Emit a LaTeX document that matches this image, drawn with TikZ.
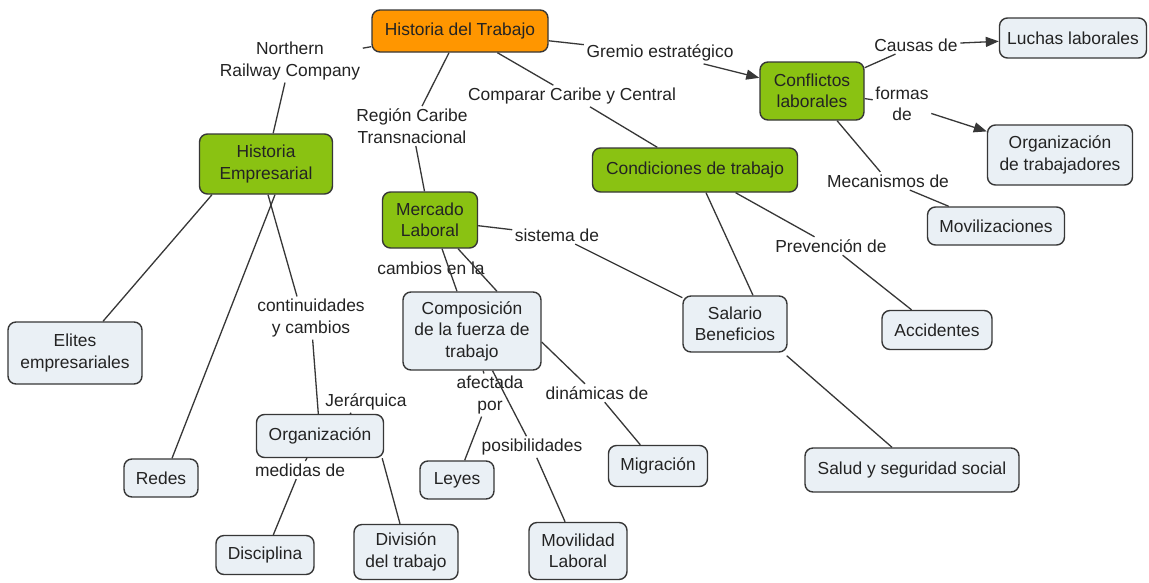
\documentclass[tikz,border=0pt]{standalone}
\usepackage{fontspec}
\setmainfont{Liberation Sans}
\usetikzlibrary{arrows.meta}
\definecolor{orangefill}{RGB}{255,150,0}
\definecolor{greenfill}{RGB}{138,194,18}
\definecolor{palefill}{RGB}{234,240,245}
\definecolor{edgegray}{RGB}{55,55,55}
\definecolor{inkgray}{RGB}{35,35,35}
\begin{document}
\begin{tikzpicture}[x=1pt,y=-1pt,
  every node/.style={font=\fontsize{17.4}{21.5}\selectfont, text=inkgray, align=center},
  box/.style={draw=edgegray, line width=1.4pt, rounded corners=8pt, inner sep=0pt},
  topic/.style={box, fill=orangefill},
  theme/.style={box, fill=greenfill},
  leaf/.style={box, fill=palefill},
  lbl/.style={inner sep=2.5pt},
  link/.style={draw=edgegray, line width=1.3pt},
  arrowlink/.style={link, -{Triangle[length=13pt,width=10pt]}}]
\useasboundingbox (0,0) rectangle (1149,582);
\fill[white] (0,0) rectangle (1149,582);

% concepts
\node[topic, minimum width=176pt, minimum height=42pt] (HdT) at (460,31) {Historia del Trabajo};
\node[leaf, minimum width=147pt, minimum height=40pt] (Luchas) at (1073,38) {Luchas laborales};
\node[theme, minimum width=104pt, minimum height=58pt] (Conf) at (812,91) {Conflictos\\laborales};
\node[leaf, minimum width=145pt, minimum height=60pt] (OrgT) at (1060,155) {Organización\\de trabajadores};
\node[leaf, minimum width=137pt, minimum height=38pt] (Movil) at (996,226) {Movilizaciones};
\node[theme, minimum width=205pt, minimum height=44pt] (Cond) at (695,170) {Condiciones de trabajo};
\node[theme, minimum width=133pt, minimum height=60pt] (HE) at (266,164) {Historia\\Empresarial};
\node[theme, minimum width=95pt, minimum height=56pt] (ML) at (430,220) {Mercado\\Laboral};
\node[leaf, minimum width=138pt, minimum height=78pt] (Comp) at (472,331) {Composición\\de la fuerza de\\trabajo};
\node[leaf, minimum width=104pt, minimum height=56pt] (Sal) at (735,324) {Salario\\Beneficios};
\node[leaf, minimum width=110pt, minimum height=39pt] (Acc) at (937,330) {Accidentes};
\node[leaf, minimum width=134pt, minimum height=62pt] (Elites) at (75,353) {Elites\\empresariales};
\node[leaf, minimum width=127pt, minimum height=43pt] (Org) at (320,436) {Organización};
\node[leaf, minimum width=74pt, minimum height=38pt] (Redes) at (161,478) {Redes};
\node[leaf, minimum width=74pt, minimum height=38pt] (Leyes) at (457,480) {Leyes};
\node[leaf, minimum width=99pt, minimum height=41pt] (Mig) at (658,466) {Migración};
\node[leaf, minimum width=214pt, minimum height=44pt] (Salud) at (912,470) {Salud y seguridad social};
\node[leaf, minimum width=98pt, minimum height=39pt] (Disc) at (265,555) {Disciplina};
\node[leaf, minimum width=104pt, minimum height=55pt] (Div) at (406,552) {División\\del trabajo};
\node[leaf, minimum width=98pt, minimum height=57pt] (Mov) at (578,551) {Movilidad\\Laboral};

% linking phrases
\node[lbl] (lNorth) at (290,61) {Northern\\Railway Company};
\node[lbl] (lGremio) at (660,53) {Gremio estratégico};
\node[lbl] (lCausas) at (916,45) {Causas de};
\node[lbl] (lFormas) at (902,104) {formas\\de};
\node[lbl] (lComparar) at (572,96) {Comparar Caribe y Central};
\node[lbl] (lRegion) at (412,126) {Región Caribe\\Transnacional};
\node[lbl] (lMec) at (888,181) {Mecanismos de};
\node[lbl] (lSistema) at (557,235) {sistema de};
\node[lbl] (lPrev) at (831,246) {Prevención de};
\node[lbl] (lCambios) at (431,268) {cambios en la};
\node[lbl] (lCont) at (311,318) {continuidades\\y cambios};
\node[lbl] (lJer) at (366,402) {Jerárquica};
\node[lbl] (lAfect) at (490,395) {afectada\\por};
\node[lbl] (lDinam) at (597,393) {dinámicas de};
\node[lbl] (lPosib) at (532,447) {posibilidades};
\node[lbl] (lMedidas) at (300,470) {medidas de};

% links
\draw[link] (HdT) -- (lNorth);
\draw[link] (lNorth) -- (HE);
\draw[link] (HdT) -- (lRegion);
\draw[link] (lRegion) -- (ML);
\draw[link] (HdT) -- (lComparar);
\draw[link] (lComparar) -- (Cond);
\draw[link] (HdT) -- (lGremio);
\draw[arrowlink] (lGremio) -- (Conf);
\draw[link] (Conf) -- (lCausas);
\draw[arrowlink] (lCausas) -- (Luchas);
\draw[link] (Conf) -- (lFormas);
\draw[arrowlink] (lFormas) -- (OrgT);
\draw[link] (Conf) -- (lMec);
\draw[link] (lMec) -- (Movil);
\draw[link] (Cond) -- (lPrev);
\draw[link] (lPrev) -- (Acc);
\draw[link] ([xshift=11pt]Cond.south) -- ([xshift=18pt]Sal.north);
\draw[link] (ML) -- (lSistema);
\draw[link] (lSistema) -- (Sal);
\draw[link] ([xshift=12pt]ML.south) -- ([xshift=-15pt]Comp.north);
\draw[link] ([xshift=28pt]ML.south) -- ([xshift=25pt]Comp.north);
\draw[link] ([xshift=-54pt]HE.south) -- ([xshift=28pt]Elites.north);
\draw[link] ([xshift=9pt]HE.south) -- ([xshift=11pt]Redes.north);
\draw[link] ([xshift=2pt]HE.south) -- ([xshift=-14pt]lCont.north);
\draw[link] (lCont) -- (Org);
\draw[link] (lJer) -- (Org);
\draw[link] (Org) -- (lMedidas);
\draw[link] (lMedidas) -- (Disc);
\draw[link] ([xshift=-2pt]Org.south east) -- ([xshift=-6pt]Div.north);
\draw[link] (Comp) -- (lAfect);
\draw[link] (lAfect) -- (Leyes);
\draw[link] (Comp) -- (lPosib);
\draw[link] (lPosib) -- (Mov);
\draw[link] ([yshift=-11pt]Comp.east) -- ([xshift=-12pt]lDinam.north);
\draw[link] (lDinam) -- (Mig);
\draw[link] ([xshift=-1pt,yshift=-3pt]Sal.south east) -- ([xshift=-20pt]Salud.north);
\end{tikzpicture}
\end{document}
